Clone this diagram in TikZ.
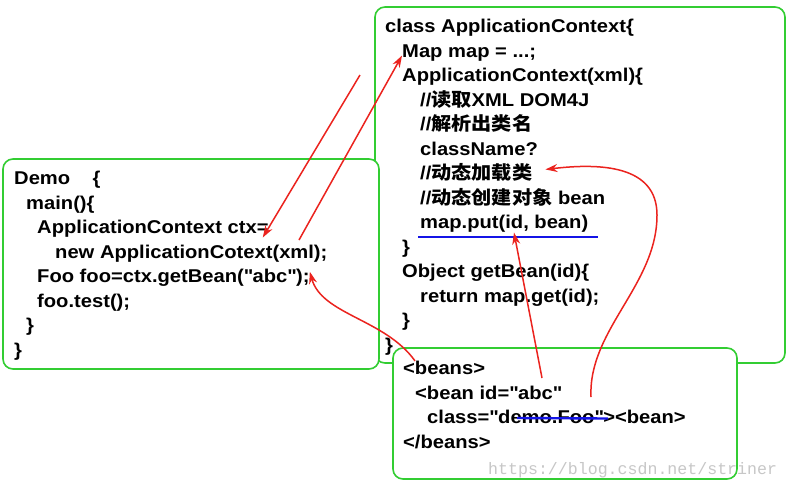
\documentclass[tikz,border=0pt]{standalone}
\usepackage{fontspec}
\setmainfont{Liberation Sans}[FakeStretch=1.09]
\newfontfamily\cjk{Noto Sans CJK SC}[FakeStretch=1.09]
\newfontfamily\wmfont{Liberation Mono}
\usetikzlibrary{arrows.meta}
\definecolor{boxgreen}{RGB}{50,205,50}
\definecolor{arrowred}{RGB}{235,35,30}
\definecolor{lineblue}{RGB}{20,20,230}
\newcommand{\dq}{\textquotedbl}
\tikzset{
  code/.style={anchor=base west, inner sep=0pt, font=\fontsize{18.5}{24.5}\selectfont\bfseries},
  panel/.style={draw=boxgreen, line width=1.6pt, rounded corners=10pt, fill=white},
  redarrow/.style={draw=arrowred, line width=1.5pt, -{Stealth[length=12pt,width=8pt]}},
  blueline/.style={draw=lineblue, line width=2.4pt},
}
\begin{document}
\begin{tikzpicture}[x=1pt,y=-1pt]
        \useasboundingbox (0,0) rectangle (789,488);
        \draw[panel] (375,7) rectangle (785,363);
        \draw[panel] (3,159) rectangle (379,369);

        % class ApplicationContext
        \node[code] (cls) at (385,32.5) {class ApplicationContext\{};
        \node[code] (map) at (402,57) {Map map = ...;};
        \node[code] (ctor) at (402,81.5) {ApplicationContext(xml)\{};
        \node[code] (c1) at (420,106) {//{\cjk 读取}XML DOM4J};
        \node[code] (c2) at (420,130.5) {//{\cjk 解析出类名}};
        \node[code] (cname) at (420,155) {className?};
        \node[code] (c3) at (420,179.5) {//{\cjk 动态加载类}};
        \node[code] (c4) at (420,204) {//{\cjk 动态创建对象} bean};
        \node[code] (put) at (420,228.5) {map.put(id, bean)};
        \node[code] (cb1) at (402,253) {\}};
        \node[code] (get) at (402,277.5) {Object getBean(id)\{};
        \node[code] (ret) at (420,302) {return map.get(id);};
        \node[code] (cb2) at (402,326.5) {\}};
        \node[code] (cb3) at (385,351) {\}};

        % Demo
        \node[code] (demo) at (14,184.5) {Demo~~~~\{};
        \node[code] (main) at (26,209) {main()\{};
        \node[code] (ctx) at (37,233.5) {ApplicationContext ctx=};
        \node[code] (newctx) at (55,258) {new ApplicationCotext(xml);};
        \node[code] (foo) at (37,282.5) {Foo foo=ctx.getBean(\dq abc\dq);};
        \node[code] (test) at (37,307) {foo.test();};
        \node[code] (db1) at (26,331.5) {\}};
        \node[code] (db2) at (14,356) {\}};

        % beans
        \draw[panel] (393,348) rectangle (737,479);
        \node[code] (beans) at (403,374.5) {<beans>};
        \node[code] (bean) at (415,399) {<bean id=\dq abc\dq};
        \node[code] (klass) at (427,423.5) {class=\dq demo.Foo\dq><bean>};
        \node[code] (ebeans) at (403,448) {</beans>};

        \draw[blueline] ([xshift=-2pt,yshift=-8.5pt]put.base west) -- ([xshift=10pt,yshift=-8.5pt]put.base east);
        \draw[blueline] ([xshift=90pt,yshift=5.5pt]klass.base west) -- ([xshift=181pt,yshift=5pt]klass.base west);

        \coordinate (s1) at (360,75);
        \coordinate (s2) at (299,240);
        \coordinate (s4) at (542,378);
        \coordinate (s5) at (591,397);
        \path[redarrow] (s1) -- ([xshift=-6pt]ctx.south east);
        \path[redarrow] (s2) -- ([yshift=-3pt]map.west);
        \path[redarrow] ([xshift=12pt]beans.north west) .. controls +(-30,-42) and +(12,43) .. ([yshift=6pt]foo.east);
        \path[redarrow] (s4) -- ([xshift=94pt]put.south west);
        \path[redarrow] (s5) .. controls (588,330) and (657,285) .. (657,215) .. controls (657,165) and (600,163) .. ([xshift=13pt,yshift=3pt]c3.east);

        \node[anchor=base west, inner sep=0pt, font=\wmfont\fontsize{16.6}{18}\selectfont, text=black!22] (wm) at (488,474) {https://blog.csdn.net/striner};
    \end{tikzpicture}
\end{document}
